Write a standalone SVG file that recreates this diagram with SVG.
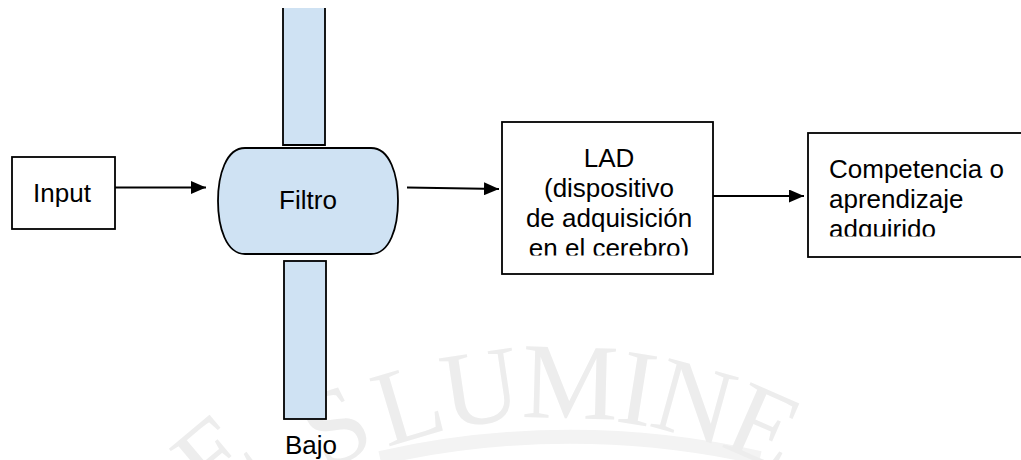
<svg xmlns="http://www.w3.org/2000/svg" width="1021" height="460" viewBox="0 0 1021 460">
<defs>
<style>
.box{fill:#ffffff;stroke:#000;stroke-width:1.8}
.blue{fill:#cfe2f3;stroke:#000;stroke-width:1.8}
.t{font-family:"Liberation Sans",Arial,sans-serif;font-size:26px;fill:#000}
.c{text-anchor:middle}
.wm{font-family:"Liberation Serif","Times New Roman",serif;font-size:108px;fill:#ededed}
.link{stroke:#000;stroke-width:1.8;fill:none;marker-end:url(#ah)}
</style>
<marker id="ah" markerUnits="userSpaceOnUse" markerWidth="15" markerHeight="13" viewBox="0 0 15 13" refX="15" refY="6.5" orient="auto">
<path d="M0,0 L15,6.5 L0,13 Z" fill="#000"/>
</marker>
<clipPath id="clipLAD"><rect x="500" y="120" width="216" height="135.5"/></clipPath>
<clipPath id="clipComp"><rect x="806" y="130" width="215" height="106.5"/></clipPath>
<path id="wmArc" d="M72,901 A483,483 0 0 1 1038,901"/>
</defs>
<rect x="0" y="0" width="1021" height="460" fill="#ffffff"/>

<g id="watermark">
<path d="M380,458 A860,860 0 0 1 760,458" fill="none" stroke="#f3f3f3" stroke-width="14"/>
<text class="wm" text-anchor="middle" letter-spacing="-3"><textPath href="#wmArc" startOffset="788">LUMINE</textPath></text>
<text class="wm" text-anchor="middle" transform="translate(352,458) rotate(-27)">S</text>
<text class="wm" transform="translate(212,505) rotate(-40)">E</text>
</g>

<g id="connectors">
<line class="link" x1="115" y1="187.5" x2="206" y2="187.5"/>
<line class="link" x1="407" y1="187.5" x2="499" y2="189"/>
<line class="link" x1="713" y1="196" x2="804" y2="196"/>
</g>

<g id="input">
<rect class="box" x="12" y="157" width="103" height="72"/>
<text class="t c" x="62" y="202">Input</text>
</g>

<g id="bar-top">
<path class="blue" d="M283,8 V145 H325 V8"/>
</g>

<g id="bar-bottom">
<rect class="blue" x="284" y="261" width="42" height="158"/>
<text class="t c" x="311" y="454">Bajo</text>
</g>

<g id="filtro">
<path class="blue" d="M245,148 H371 C390,148 398,175 398,201 C398,227 390,254 371,254 H245 C226,254 218,227 218,201 C218,175 226,148 245,148 Z"/>
<text class="t c" x="308" y="209">Filtro</text>
</g>

<g id="lad">
<rect class="box" x="502" y="122" width="211" height="152"/>
<g clip-path="url(#clipLAD)">
<text class="t c" x="609" y="167">LAD</text>
<text class="t c" x="609" y="197">(dispositivo</text>
<text class="t c" x="609" y="227">de adquisición</text>
<text class="t c" x="609" y="257">en el cerebro)</text>
</g>
</g>

<g id="competencia">
<rect class="box" x="808" y="133" width="230" height="124"/>
<g clip-path="url(#clipComp)">
<text class="t" x="829" y="178">Competencia o</text>
<text class="t" x="829" y="207.5">aprendizaje</text>
<text class="t" x="829" y="237.5">adquirido</text>
</g>
</g>
</svg>
